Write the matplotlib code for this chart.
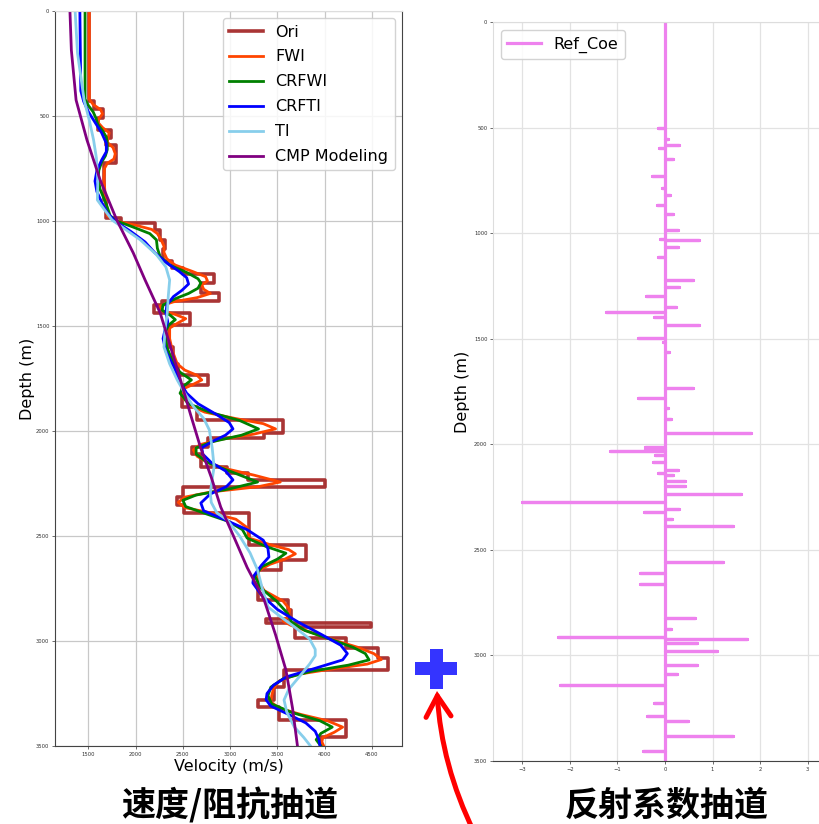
import matplotlib
matplotlib.use('Agg')
import matplotlib.pyplot as plt
import numpy as np
from matplotlib.patches import Rectangle, FancyArrowPatch

# ---------------- data ----------------
ori_top = [0, 430, 465, 510, 565, 605, 640, 725, 900, 985,
           1010, 1045, 1090, 1135, 1190, 1225, 1250, 1295, 1343, 1380,
           1400, 1438, 1495, 1600, 1680, 1733, 1781, 1886, 1948, 2010,
           2033, 2075, 2110, 2170, 2200, 2233, 2267, 2314, 2352, 2390,
           2545, 2614, 2662, 2805, 2852, 2895, 2915, 2935, 2986, 3033,
           3081, 3138, 3219, 3281, 3314, 3376, 3457]
ori_vel = [1505, 1560, 1660, 1600, 1740, 1690, 1790, 1670, 1690, 1840,
           2210, 2260, 2310, 2290, 2390, 2500, 2826, 2690, 2880, 2280,
           2190, 2580, 2350, 2400, 2450, 2770, 2490, 2650, 3555, 3355,
           2770, 2600, 2690, 2970, 3185, 4000, 2500, 2440, 2510, 3200,
           3800, 3535, 3290, 3610, 3640, 3380, 4490, 3690, 4225, 4565,
           4670, 3570, 3465, 3290, 3515, 4225, 3960]
max_depth = 3500

fwi_depth = [0, 420, 445, 470, 490, 510, 530, 555, 580, 600, 625, 650, 680, 705, 725, 750, 800, 860, 920, 975,
             1000, 1020, 1040, 1060, 1090, 1120, 1150, 1180, 1210, 1240, 1265, 1285, 1305, 1325, 1345, 1365, 1385,
             1405, 1425, 1445, 1465, 1485, 1510, 1560, 1620, 1680, 1710, 1735, 1757, 1780, 1800, 1840, 1880, 1910,
             1940, 1965, 1990, 2015, 2040, 2065, 2090, 2120, 2150, 2180, 2210, 2243, 2265, 2290, 2315, 2340, 2365,
             2390, 2420, 2460, 2510, 2545, 2565, 2585, 2610, 2635, 2665, 2700, 2760, 2810, 2850, 2880, 2905, 2925,
             2950, 2975, 3000, 3030, 3060, 3088, 3110, 3135, 3160, 3190, 3225, 3260, 3290, 3320, 3350, 3380, 3410,
             3435, 3460, 3480, 3500]
fwi_vel = [1510, 1510, 1550, 1630, 1650, 1615, 1600, 1650, 1720, 1710, 1700, 1760, 1785, 1770, 1700, 1670, 1665, 1675, 1690, 1700,
           1790, 2000, 2170, 2230, 2270, 2300, 2300, 2330, 2420, 2600, 2740, 2760, 2700, 2720, 2790, 2650, 2400,
           2260, 2260, 2420, 2530, 2450, 2360, 2360, 2390, 2440, 2520, 2650, 2700, 2600, 2500, 2500, 2580, 2730,
           3050, 3350, 3480, 3250, 2900, 2680, 2610, 2650, 2760, 2960, 3250, 3530, 3300, 2800, 2520, 2450, 2520,
           2800, 3060, 3180, 3200, 3450, 3620, 3690, 3580, 3420, 3300, 3280, 3360, 3560, 3630, 3620, 3560, 3640,
           3800, 3960, 4130, 4350, 4520, 4600, 4450, 4050, 3700, 3520, 3460, 3440, 3430, 3520, 3750, 4030, 4190,
           4100, 3980, 3970, 3990]

crfwi_depth = [0, 420, 450, 480, 510, 540, 570, 600, 630, 660, 690, 720, 760, 800, 850, 920, 975, 1000, 1030, 1060,
               1090, 1130, 1170, 1210, 1245, 1275, 1295, 1320, 1345, 1370, 1400, 1425, 1450, 1470, 1495, 1530, 1600,
               1680, 1720, 1757, 1785, 1820, 1870, 1910, 1950, 1990, 2020, 2050, 2080, 2110, 2150, 2190, 2243, 2275,
               2305, 2330, 2360, 2395, 2430, 2470, 2510, 2550, 2582, 2610, 2645, 2690, 2750, 2810, 2870, 2910, 2950,
               2990, 3030, 3060, 3090, 3115, 3145, 3180, 3220, 3260, 3300, 3340, 3380, 3410, 3440, 3470, 3500]
crfwi_vel = [1465, 1465, 1500, 1550, 1580, 1600, 1650, 1690, 1700, 1700, 1680, 1640, 1610, 1605, 1625, 1690, 1730, 1800, 1980, 2150,
             2220, 2230, 2260, 2360, 2540, 2660, 2690, 2660, 2560, 2420, 2290, 2280, 2370, 2420, 2350, 2310, 2330,
             2400, 2470, 2590, 2510, 2470, 2560, 2780, 3100, 3300, 3120, 2820, 2640, 2640, 2760, 2990, 3290, 3000,
             2640, 2500, 2530, 2750, 2980, 3130, 3180, 3380, 3590, 3500, 3340, 3260, 3330, 3490, 3610, 3650, 3790,
             4050, 4300, 4430, 4470, 4250, 3850, 3560, 3430, 3400, 3440, 3650, 3950, 4080, 3960, 3910, 3960]

crfti_depth = [0, 380, 430, 480, 530, 580, 630, 670, 710, 760, 810, 860, 910, 960, 1000, 1050, 1100, 1150, 1200, 1240,
               1270, 1300, 1330, 1360, 1400, 1440, 1480, 1520, 1560, 1620, 1700, 1760, 1820, 1870, 1920, 1960, 1990,
               2020, 2050, 2080, 2110, 2150, 2190, 2233, 2265, 2300, 2343, 2380, 2420, 2470, 2520, 2560, 2600, 2640,
               2690, 2724, 2780, 2850, 2910, 2970, 3020, 3060, 3090, 3130, 3170, 3210, 3250, 3280, 3310, 3350, 3390,
               3430, 3470, 3500]
crfti_vel = [1410, 1420, 1450, 1500, 1570, 1640, 1690, 1690, 1640, 1590, 1570, 1590, 1640, 1700, 1780, 1950, 2100, 2200, 2330, 2460,
             2540, 2560, 2490, 2400, 2330, 2320, 2340, 2310, 2290, 2320, 2410, 2460, 2540, 2660, 2850, 2990, 3030,
             2950, 2810, 2700, 2710, 2800, 2950, 3030, 2960, 2790, 2690, 2720, 2930, 3180, 3350, 3400, 3410, 3330,
             3250, 3240, 3330, 3500, 3720, 3970, 4170, 4240, 4190, 3900, 3600, 3460, 3390, 3380, 3430, 3620, 3800,
             3900, 3940, 3950]

ti_depth = [0, 200, 424, 520, 614, 700, 805, 900, 995, 1090, 1160, 1219, 1281, 1360, 1438, 1520, 1600, 1680, 1757,
            1820, 1886, 1940, 1995, 2080, 2171, 2230, 2295, 2340, 2390, 2424, 2500, 2580, 2662, 2750, 2838, 2890,
            2933, 2990, 3040, 3070, 3110, 3171, 3230, 3281, 3340, 3410, 3460, 3500]
ti_vel = [1360, 1385, 1455, 1510, 1555, 1585, 1600, 1595, 1750, 2050, 2220, 2320, 2360, 2345, 2335, 2310, 2300, 2360, 2440,
          2520, 2615, 2720, 2780, 2810, 2830, 2810, 2790, 2800, 2860, 2970, 3100, 3210, 3290, 3340, 3400, 3550,
          3680, 3840, 3900, 3900, 3840, 3730, 3620, 3570, 3600, 3680, 3780, 3850]

cmp_depth = [0, 186, 424, 614, 805, 995, 1152, 1281, 1438, 1600, 1757, 1920, 2076, 2220, 2362, 2505, 2650,
             2805, 2970, 3138, 3320, 3500]
cmp_vel = [1305, 1320, 1370, 1485, 1625, 1800, 1975, 2100, 2260, 2370, 2475, 2580, 2685, 2800, 2900, 3040, 3180,
           3360, 3480, 3590, 3660, 3712]

ref_depth = [502, 553, 583, 598, 649, 729, 787, 819, 865, 911, 985, 1028, 1034, 1067, 1114, 1222, 1256, 1298,
             1348, 1374, 1396, 1435, 1498, 1514, 1561, 1735, 1783, 1827, 1882, 1948, 2013, 2020, 2032, 2051,
             2082, 2122, 2137, 2145, 2174, 2198, 2235, 2272, 2308, 2319, 2355, 2388, 2559, 2611, 2663, 2823,
             2876, 2915, 2921, 2940, 2979, 3045, 3086, 3140, 3225, 3287, 3312, 3381, 3454]
ref_val = [-0.15, 0.07, 0.30, -0.12, 0.16, -0.28, -0.07, 0.10, -0.16, 0.16, 0.27, -0.10, 0.72, 0.27, -0.14, 0.58, 0.30, -0.39,
           0.23, -1.24, -0.23, 0.72, -0.56, -0.05, 0.08, 0.58, -0.56, 0.06, 0.13, 1.82, -0.42, -0.42, -1.16, -0.21,
           -0.26, 0.27, -0.15, 0.16, 0.42, 0.42, 1.61, -3.02, 0.30, -0.44, 0.14, 1.43, 1.23, -0.53, -0.53, 0.63,
           0.13, -2.26, 1.73, 0.67, 1.09, 0.68, 0.25, -2.20, -0.23, -0.37, 0.49, 1.43, -0.47]

vel_ticks = [1500, 2000, 2500, 3000, 3500, 4000, 4500]
depth_ticks = [0, 500, 1000, 1500, 2000, 2500, 3000, 3500]
ref_ticks = [-3, -2, -1, 0, 1, 2, 3]

# ---------------- figure ----------------
W, H = 820, 824
fig = plt.figure(figsize=(W / 100, H / 100), dpi=100)
fig.patch.set_facecolor('white')

def fbox(x0, y0, x1, y1):
    return [x0 / W, 1 - y1 / H, (x1 - x0) / W, (y1 - y0) / H]

ax1 = fig.add_axes(fbox(55, 11, 402, 746))
ax2 = fig.add_axes(fbox(493, 22, 837, 761))

# step path for Ori
ori_x = np.repeat(ori_vel, 2)
ori_y = np.column_stack([ori_top, list(ori_top[1:]) + [max_depth]]).ravel()

ax1.plot(ori_x, ori_y, color='brown', lw=2.6, label='Ori', alpha=0.95)
ax1.plot(fwi_vel, fwi_depth, color='orangered', lw=2.0, label='FWI')
ax1.plot(crfwi_vel, crfwi_depth, color='green', lw=2.0, label='CRFWI')
ax1.plot(crfti_vel, crfti_depth, color='blue', lw=2.0, label='CRFTI')
ax1.plot(ti_vel, ti_depth, color='skyblue', lw=2.0, label='TI')
ax1.plot(cmp_vel, cmp_depth, color='purple', lw=2.0, label='CMP Modeling')

ax1.set_xlim(1147, 4818)
ax1.set_ylim(3500, 0)
ax1.set_xticks(vel_ticks)
ax1.set_yticks(depth_ticks)
ax1.tick_params(labelsize=3.8, length=2, width=0.5, pad=2, colors='#333333')
ax1.grid(True, color='#c8c8c8', lw=0.9)
ax1.set_axisbelow(True)
ax1.set_xlabel('Velocity (m/s)', fontsize=11.5, labelpad=2)
ax1.set_ylabel('Depth (m)', fontsize=11.5, labelpad=1)
for s in ['left', 'bottom', 'right']:
    ax1.spines[s].set_color('#444444')
ax1.spines['top'].set_color('#dddddd')
ax1.legend(loc='upper right', fontsize=11.5, handlelength=2.1, labelspacing=0.62,
           borderaxespad=0.45, framealpha=0.85)

# reflection coefficient trace
ref_x = [0.0]
ref_y = [0.0]
for d, v in zip(ref_depth, ref_val):
    ref_x += [0.0, v, 0.0]
    ref_y += [d, d, d]
ref_x.append(0.0)
ref_y.append(max_depth)
ax2.plot(ref_x, ref_y, color='violet', lw=2.3, label='Ref_Coe')
ax2.set_xlim(-3.62, 3.62)
ax2.set_ylim(3500, 0)
ax2.set_xticks(ref_ticks)
ax2.set_yticks(depth_ticks)
ax2.tick_params(labelsize=3.8, length=2, width=0.5, pad=2, colors='#333333')
ax2.grid(True, color='#e2e2e2', lw=0.9)
ax2.set_axisbelow(True)
ax2.set_ylabel('Depth (m)', fontsize=11.5, labelpad=3)
ax2.spines['bottom'].set_color('#444444')
for s in ['left', 'top', 'right']:
    ax2.spines[s].set_color('#dddddd')
ax2.legend(loc='upper left', fontsize=11.5, handlelength=2.1, borderaxespad=0.5, framealpha=0.85)

# bottom captions
cjk = ['Noto Sans CJK SC', 'DejaVu Sans']
fig.text(230 / W, 1 - 805 / H, '速度/阻抗抽道', fontsize=24.5, fontweight='black',
         family=cjk, ha='center', va='center')
fig.text(667 / W, 1 - 805 / H, '反射系数抽道', fontsize=24.5, fontweight='black',
         family=cjk, ha='center', va='center')

# blue plus
plus_color = '#3434ff'
fig.add_artist(Rectangle((415 / W, 1 - 675 / H), 42 / W, 13 / H, transform=fig.transFigure,
                         color=plus_color, lw=0))
fig.add_artist(Rectangle((430 / W, 1 - 689 / H), 13 / W, 40 / H, transform=fig.transFigure,
                         color=plus_color, lw=0))

# red curved arrow
arrow = FancyArrowPatch(posA=(474 / W, 1 - 832 / H), posB=(437 / W, 1 - 691 / H),
                        transform=fig.transFigure, connectionstyle='arc3,rad=-0.1',
                        arrowstyle='->,head_length=0.5,head_width=0.3', mutation_scale=30,
                        lw=3.6, color='red', shrinkA=0, shrinkB=0, joinstyle='miter')
fig.add_artist(arrow)

fig.savefig('out.png', dpi=100, facecolor='white')
